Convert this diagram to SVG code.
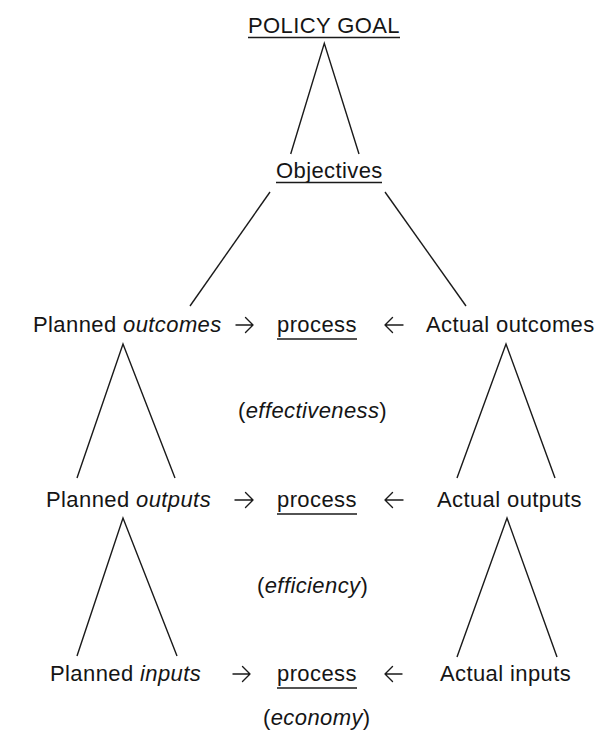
<svg xmlns="http://www.w3.org/2000/svg" width="600" height="738" viewBox="0 0 600 738">
<style>
text{font-family:"Liberation Sans",Arial,Helvetica,sans-serif;font-size:22px;letter-spacing:0.4px;fill:#151515}
.i{font-style:italic}
.c line,.c path,.u{stroke:#1a1a1a;stroke-width:1.4;fill:none}
.a{stroke:#151515;stroke-width:2.2;fill:none;stroke-linecap:round;stroke-linejoin:round}
</style>
<rect width="600" height="738" fill="#fff"/>
<g id="goal"><text x="248" y="33">POLICY GOAL</text><line class="u" x1="248" y1="37.5" x2="400" y2="37.5"/></g>
<g id="objectives"><text x="276" y="178">Objectives</text><line class="u" x1="276" y1="182.5" x2="382" y2="182.5"/></g>
<g id="planned-outcomes"><text x="33" y="332">Planned <tspan class="i">outcomes</tspan></text></g>
<g id="process-1"><text x="277" y="332">process</text><line class="u" x1="277" y1="339" x2="357" y2="339"/></g>
<g id="actual-outcomes"><text x="426" y="332">Actual outcomes</text></g>
<g id="effectiveness"><text x="238" y="418">(<tspan class="i">effectiveness</tspan>)</text></g>
<g id="planned-outputs"><text x="46" y="507">Planned <tspan class="i">outputs</tspan></text></g>
<g id="process-2"><text x="277" y="507">process</text><line class="u" x1="277" y1="514" x2="357" y2="514"/></g>
<g id="actual-outputs"><text x="437" y="507">Actual outputs</text></g>
<g id="efficiency"><text x="257" y="593">(<tspan class="i">efficiency</tspan>)</text></g>
<g id="planned-inputs"><text x="50" y="681">Planned <tspan class="i">inputs</tspan></text></g>
<g id="process-3"><text x="277" y="681">process</text><line class="u" x1="277" y1="688" x2="357" y2="688"/></g>
<g id="actual-inputs"><text x="440" y="681">Actual inputs</text></g>
<g id="economy"><text x="263" y="725">(<tspan class="i">economy</tspan>)</text></g>
<g id="connectors" class="c">
<path d="M290.7,154 L324.3,43.3 L359,154"/>
<line x1="270" y1="192" x2="190" y2="306"/>
<line x1="385" y1="192" x2="466" y2="306"/>
<path d="M77,478 L123,344 L175,478"/>
<path d="M457,478 L506,344 L555,478"/>
<path d="M77,656 L123,518 L177,656"/>
<path d="M457,657 L507,518 L557,657"/>
<g class="a">
<path d="M236,325 H253 M245.5,317.5 L253,325 L245.5,332.5"/>
<path d="M403,325 H385 M392.5,317.5 L385,325 L392.5,332.5"/>
<path d="M235,500 H253 M245.5,492.5 L253,500 L245.5,507.5"/>
<path d="M403,500 H385 M392.5,492.5 L385,500 L392.5,507.5"/>
<path d="M233,674 H250 M242.5,666.5 L250,674 L242.5,681.5"/>
<path d="M402,674 H385 M392.5,666.5 L385,674 L392.5,681.5"/>
</g>
</g>
</svg>
